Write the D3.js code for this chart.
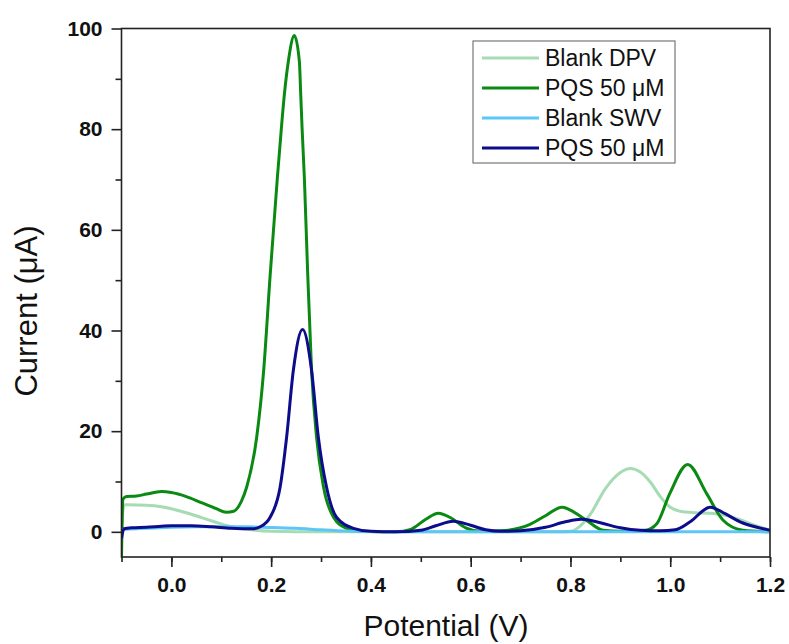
<!DOCTYPE html>
<html>
<head>
<meta charset="utf-8">
<script src="https://cdn.jsdelivr.net/npm/d3@7"></script>
<style>
  html, body { margin: 0; padding: 0; background: #fff; }
  svg { display: block; font-family: "Liberation Sans", Arial, sans-serif; }
</style>
</head>
<body>
<svg id="chart" width="789" height="644"></svg>
<script>
// Potential (V) / current (µA) pairs for each voltammogram
const blankDpvV = [-0.1, -0.095, -0.09, -0.05, -0.02, 0.0, 0.04, 0.08, 0.12, 0.16, 0.2, 0.3, 0.5, 0.78, 0.80, 0.82, 0.84, 0.87, 0.9, 0.92, 0.94, 0.96, 0.98, 1.0, 1.02, 1.05, 1.08, 1.11, 1.14, 1.17, 1.2];
const blankDpvI = [1.0, 5.3, 5.4, 5.3, 5.0, 4.6, 3.5, 2.2, 1.0, 0.4, 0.1, 0.0, 0.0, 0.0, 0.1, 1.2, 3.5, 8.6, 11.8, 12.6, 11.9, 9.9, 7.0, 4.9, 4.1, 3.8, 3.7, 3.3, 2.4, 1.3, 0.3];

const pqsDpvV = [-0.1, -0.097, -0.09, -0.07, -0.05, -0.02, 0.0, 0.03, 0.06, 0.09, 0.11, 0.125, 0.14, 0.151, 0.171, 0.185, 0.198, 0.2124, 0.2205, 0.2265, 0.2345, 0.2465, 0.2565, 0.2593, 0.262, 0.2666, 0.273, 0.281, 0.291, 0.305, 0.325, 0.351, 0.38, 0.45, 0.48, 0.51, 0.535, 0.56, 0.59, 0.62, 0.66, 0.719, 0.75, 0.783, 0.826, 0.866, 0.9, 0.95, 0.973, 0.999, 1.035, 1.073, 1.106, 1.146, 1.2];
const pqsDpvI = [-5.0, 6.5, 7.0, 7.1, 7.5, 8.0, 7.8, 7.0, 5.8, 4.6, 3.9, 4.1, 6.0, 8.9, 18.8, 32.1, 51.0, 70.3, 80.2, 86.9, 93.5, 98.6, 93.5, 86.9, 80.2, 70.3, 52.0, 32.1, 18.8, 8.9, 2.9, 0.7, 0.1, 0.0, 0.5, 2.5, 3.7, 2.8, 0.8, 0.1, 0.2, 1.5, 3.2, 4.9, 2.7, 0.3, 0.1, 0.3, 1.6, 7.6, 13.4, 7.6, 2.3, 0.3, 0.0];

const blankSwvV = [-0.1, -0.09, -0.05, 0.0, 0.05, 0.1, 0.15, 0.2, 0.25, 0.3, 0.35, 0.4, 0.5, 1.2];
const blankSwvI = [0.4, 0.5, 0.7, 0.9, 1.0, 1.0, 1.0, 0.85, 0.7, 0.4, 0.15, 0.05, 0.0, 0.0];

const pqsSwvV = [-0.1, -0.095, -0.08, -0.05, -0.02, 0.0, 0.04, 0.08, 0.12, 0.164, 0.178, 0.198, 0.218, 0.231, 0.2445, 0.263, 0.281, 0.2946, 0.311, 0.331, 0.365, 0.4, 0.45, 0.5, 0.53, 0.565, 0.6, 0.63, 0.66, 0.7, 0.75, 0.79, 0.822, 0.86, 0.9, 0.94, 0.98, 1.01, 1.04, 1.08, 1.11, 1.14, 1.17, 1.2];
const pqsSwvI = [-1.3, 0.6, 0.8, 0.9, 1.1, 1.2, 1.2, 1.0, 0.7, 0.6, 1.0, 2.9, 8.9, 18.8, 32.1, 40.2, 32.1, 18.8, 8.9, 2.9, 0.7, 0.1, 0.0, 0.3, 1.2, 2.1, 1.3, 0.4, 0.1, 0.2, 0.9, 2.0, 2.5, 1.8, 0.8, 0.3, 0.2, 0.4, 2.0, 4.9, 3.6, 2.0, 1.0, 0.3];

const seriesNames = ["Blank DPV", "PQS 50 μM", "Blank SWV", "PQS 50 μM"];
const seriesColors = ["#a6dbb3", "#0a8a12", "#5cc6f7", "#0c0c8c"];

const xTicks = [0.0, 0.2, 0.4, 0.6, 0.8, 1.0, 1.2];
const yTicks = [0, 20, 40, 60, 80, 100];

const series = [
  { v: blankDpvV, i: blankDpvI },
  { v: pqsDpvV, i: pqsDpvI },
  { v: blankSwvV, i: blankSwvI },
  { v: pqsSwvV, i: pqsSwvI }
].map((s, k) => ({
  name: seriesNames[k],
  color: seriesColors[k],
  points: s.v.map((v, j) => [v, s.i[j]])
}));

const svg = d3.select("#chart");
const plot = { left: 121.5, right: 770, top: 28.5, bottom: 557 };

const x = d3.scaleLinear().domain([-0.1, 1.2]).range([plot.left, plot.right]);
const y = d3.scaleLinear().domain([-5, 100]).range([plot.bottom, plot.top]);

// Curves, clipped to the plotting frame
svg.append("defs").append("clipPath").attr("id", "plotClip")
  .append("rect")
  .attr("x", plot.left).attr("y", plot.top - 3)
  .attr("width", plot.right - plot.left).attr("height", plot.bottom - plot.top + 3);

const line = d3.line()
  .x(d => x(d[0]))
  .y(d => y(d[1]))
  .curve(d3.curveMonotoneX);

svg.append("g").attr("clip-path", "url(#plotClip)")
  .selectAll("path")
  .data(series)
  .join("path")
  .attr("d", d => line(d.points))
  .attr("fill", "none")
  .attr("stroke", d => d.color)
  .attr("stroke-width", 3)
  .attr("stroke-linejoin", "round");

// Frame
svg.append("rect")
  .attr("x", plot.left).attr("y", plot.top)
  .attr("width", plot.right - plot.left).attr("height", plot.bottom - plot.top)
  .attr("fill", "none").attr("stroke", "#222").attr("stroke-width", 1.6);

const tickFont = g => g.selectAll("text")
  .attr("fill", "#111").attr("font-size", 21).attr("font-weight", "bold")
  .attr("font-family", "Liberation Sans, Arial, sans-serif");

// Bottom axis with minor ticks
const xAxis = svg.append("g").attr("transform", `translate(0,${plot.bottom})`);
xAxis.call(d3.axisBottom(x).tickValues(d3.range(-0.1, 1.2001, 0.1)).tickSize(5).tickFormat(""))
  .call(g => g.select(".domain").remove())
  .call(g => g.selectAll("line").attr("stroke", "#222").attr("stroke-width", 1.6));
xAxis.append("g")
  .call(d3.axisBottom(x).tickValues(xTicks).tickSize(10).tickPadding(10).tickFormat(d3.format(".1f")))
  .call(g => g.select(".domain").remove())
  .call(g => g.selectAll("line").attr("stroke", "#222").attr("stroke-width", 1.6))
  .call(tickFont);

// Left axis with minor ticks
const yAxis = svg.append("g").attr("transform", `translate(${plot.left},0)`);
yAxis.call(d3.axisLeft(y).tickValues(d3.range(10, 100, 20)).tickSize(6).tickFormat(""))
  .call(g => g.select(".domain").remove())
  .call(g => g.selectAll("line").attr("stroke", "#222").attr("stroke-width", 1.6));
yAxis.append("g")
  .call(d3.axisLeft(y).tickValues(yTicks).tickSize(10).tickPadding(9).tickFormat(d3.format("d")))
  .call(g => g.select(".domain").remove())
  .call(g => g.selectAll("line").attr("stroke", "#222").attr("stroke-width", 1.6))
  .call(tickFont);

// Axis titles
svg.append("text")
  .attr("x", 446).attr("y", 636)
  .attr("text-anchor", "middle").attr("font-size", 30).attr("fill", "#111")
  .text("Potential (V)");

svg.append("text")
  .attr("transform", "translate(36.5,311) rotate(-90)")
  .attr("text-anchor", "middle").attr("font-size", 31).attr("fill", "#111")
  .text("Current (μA)");

// Legend
const legend = svg.append("g").attr("transform", "translate(473,41)");
legend.append("rect")
  .attr("width", 202).attr("height", 122)
  .attr("fill", "#fff").attr("stroke", "#777").attr("stroke-width", 1.2);
const rows = legend.selectAll("g.row").data(series).join("g")
  .attr("class", "row")
  .attr("transform", (d, k) => `translate(0,${17 + k * 30})`);
rows.append("line")
  .attr("x1", 9).attr("x2", 66)
  .attr("stroke", d => d.color).attr("stroke-width", 3);
rows.append("text")
  .attr("x", 72).attr("dy", "0.36em")
  .attr("font-size", 23).attr("fill", "#111")
  .text(d => d.name);
</script>
</body>
</html>
